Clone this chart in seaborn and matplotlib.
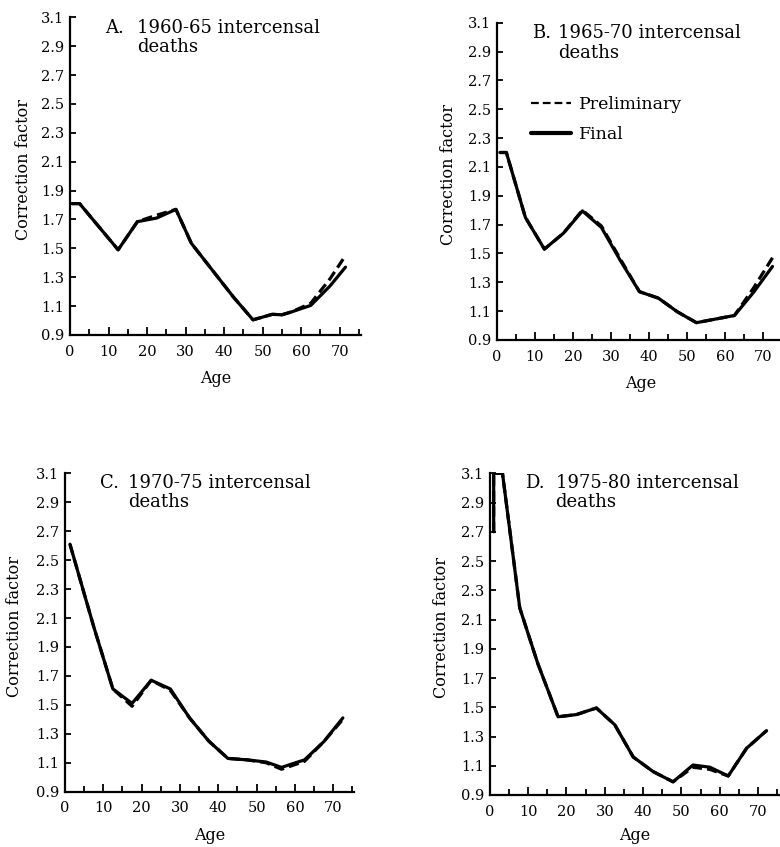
import numpy as np
import pandas as pd
import matplotlib
matplotlib.use("Agg")
import matplotlib.pyplot as plt
from matplotlib.lines import Line2D
from matplotlib.ticker import MultipleLocator, FixedLocator
import seaborn as sns

sns.set_theme(style="white")
plt.rcParams["font.family"] = ["DejaVu Serif"]

# ---------------- data ----------------
panel_letters = ["A.", "B.", "C.", "D."]
panel_titles = ["1960-65 intercensal\ndeaths", "1965-70 intercensal\ndeaths",
                "1970-75 intercensal\ndeaths", "1975-80 intercensal\ndeaths"]

age_A = [0.5, 2.5, 12.5, 17.5, 22.5, 27.5, 31.5, 37.5, 42.5, 47.5, 52.5, 55.0, 57.5, 62.5, 67.5, 71.5]
final_A = [1.81, 1.81, 1.49, 1.685, 1.71, 1.77, 1.535, 1.33, 1.16, 1.005, 1.043, 1.04, 1.06, 1.105, 1.24, 1.37]
prelim_A = [1.81, 1.81, 1.49, 1.685, 1.73, 1.77, 1.535, 1.33, 1.16, 1.005, 1.043, 1.04, 1.06, 1.12, 1.29, 1.45]

age_B = [0.8, 2.5, 7.5, 12.5, 17.5, 22.5, 27.5, 32.5, 37.5, 42.5, 47.5, 52.5, 57.5, 62.5, 67.5, 72.5]
final_B = [2.2, 2.2, 1.75, 1.53, 1.64, 1.795, 1.68, 1.45, 1.235, 1.19, 1.095, 1.02, 1.045, 1.07, 1.23, 1.41]
prelim_B = [2.2, 2.2, 1.75, 1.53, 1.64, 1.80, 1.69, 1.46, 1.235, 1.19, 1.095, 1.02, 1.045, 1.07, 1.26, 1.47]

age_C = [1.3, 7.5, 12.5, 17.5, 22.5, 27.5, 32.5, 37.5, 42.5, 47.5, 52.5, 56.5, 62.5, 67.5, 72.5]
final_C = [2.61, 2.04, 1.61, 1.51, 1.67, 1.61, 1.41, 1.25, 1.13, 1.12, 1.105, 1.068, 1.12, 1.245, 1.41]
prelim_C = [2.61, 2.04, 1.61, 1.49, 1.67, 1.60, 1.41, 1.25, 1.13, 1.12, 1.10, 1.055, 1.11, 1.245, 1.40]

age_D = [1.0, 1.0, 3.3, 7.8, 12.5, 17.8, 22.6, 27.8, 32.6, 37.4, 42.6, 47.8, 53.0, 57.4, 62.2, 67.0, 72.2]
final_D = [2.70, 3.10, 3.10, 2.18, 1.80, 1.435, 1.45, 1.495, 1.38, 1.16, 1.06, 0.99, 1.105, 1.09, 1.03, 1.22, 1.34]
prelim_D = [2.70, 3.10, 3.10, 2.18, 1.80, 1.435, 1.45, 1.495, 1.38, 1.16, 1.06, 0.99, 1.09, 1.075, 1.03, 1.22, 1.34]

series_names = ["Preliminary", "Final"]
y_label = "Correction factor"
x_label = "Age"
y_ticks = [0.9, 1.1, 1.3, 1.5, 1.7, 1.9, 2.1, 2.3, 2.5, 2.7, 2.9, 3.1]
x_ticks = [0, 10, 20, 30, 40, 50, 60, 70]

panels = [(age_A, prelim_A, final_A), (age_B, prelim_B, final_B),
          (age_C, prelim_C, final_C), (age_D, prelim_D, final_D)]

# ---------------- layout ----------------
fig = plt.figure(figsize=(7.8, 8.47), dpi=100)
positions = [[0.0897, 0.6045, 0.373, 0.375],
             [0.637, 0.5986, 0.368, 0.3746],
             [0.0833, 0.0653, 0.371, 0.3759],
             [0.628, 0.0614, 0.371, 0.3798]]
letter_x = [0.12, 0.121, 0.121, 0.121]
title_x = [0.23, 0.2125, 0.219, 0.227]
title_y = [0.995, 0.995, 0.998, 0.998]
xlabel_y = [-0.11, -0.11, -0.11, -0.098]
ylabel_x = [-0.13, -0.14, -0.145, -0.138]

for i, (ages, prelim, final) in enumerate(panels):
    ax = fig.add_axes(positions[i])
    df = pd.DataFrame({
        "Age": list(ages) + list(ages),
        "value": list(prelim) + list(final),
        "Series": [series_names[0]] * len(ages) + [series_names[1]] * len(ages),
    })
    sns.lineplot(data=df, x="Age", y="value", style="Series",
                 dashes={"Preliminary": (3.2, 1.6), "Final": ""},
                 color="black", linewidth=2.3, sort=False, estimator=None,
                 legend=False, ax=ax)
    ax.set_xlim(0, 75.5)
    ax.set_ylim(0.9, 3.1)
    ax.yaxis.set_major_locator(FixedLocator(y_ticks))
    ax.set_yticklabels([f"{v:.1f}" for v in y_ticks])
    ax.yaxis.set_minor_locator(MultipleLocator(0.2, offset=0.1))
    ax.xaxis.set_major_locator(FixedLocator(x_ticks))
    ax.set_xticklabels([str(v) for v in x_ticks])
    ax.xaxis.set_minor_locator(MultipleLocator(5))
    for s in ["top", "right"]:
        ax.spines[s].set_visible(False)
    for s in ["left", "bottom"]:
        ax.spines[s].set_color("black")
        ax.spines[s].set_linewidth(1.6)
    ax.tick_params(axis="both", which="both", direction="in", color="black",
                   width=1.3, labelsize=10.5, labelcolor="black")
    ax.tick_params(axis="y", which="both", length=4, pad=4)
    ax.tick_params(axis="x", which="major", length=6, pad=7)
    ax.tick_params(axis="x", which="minor", length=4)
    ax.tick_params(left=True, bottom=True, which="both")
    ax.set_xlabel(x_label, fontsize=11.5, color="black")
    ax.set_ylabel(y_label, fontsize=11.5, color="black")
    ax.yaxis.set_label_coords(ylabel_x[i], 0.52)
    ax.xaxis.set_label_coords(0.5, xlabel_y[i])
    ax.patch.set_alpha(0)
    ax.text(letter_x[i], title_y[i], panel_letters[i], transform=ax.transAxes,
            ha="left", va="top", fontsize=13, color="black")
    ax.text(title_x[i], title_y[i], panel_titles[i], transform=ax.transAxes,
            ha="left", va="top", fontsize=13, color="black", linespacing=1.1)
    if i == 1:
        handles = [Line2D([], [], color="black", lw=1.6, dashes=(3.5, 1.8)),
                   Line2D([], [], color="black", lw=3.0)]
        ax.legend(handles, series_names, loc="upper left",
                  bbox_to_anchor=(0.118, 0.77), frameon=False, fontsize=12.5,
                  handlelength=2.3, handletextpad=0.5, labelspacing=0.75,
                  borderpad=0, borderaxespad=0, labelcolor="black")

fig.savefig("out.png", dpi=100)
